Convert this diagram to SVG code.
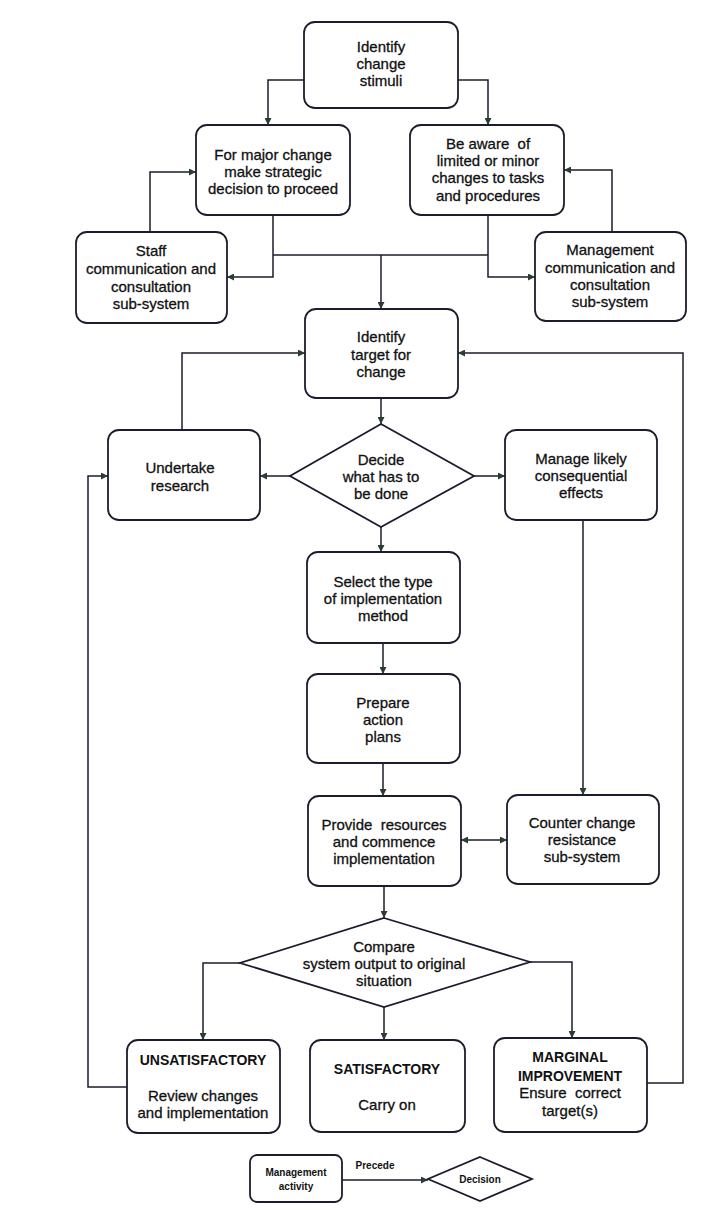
<svg xmlns="http://www.w3.org/2000/svg" width="711" height="1218" viewBox="0 0 711 1218">
<style>
.box{fill:#fff;stroke:#1c1c2e;stroke-width:1.8}
.t{font-family:"Liberation Sans",Arial,sans-serif;font-size:15px;fill:#111;stroke:#111;stroke-width:0.3;text-anchor:middle;white-space:pre}
.b{font-weight:bold;font-size:14px;stroke-width:0}
.s{font-size:10px;font-weight:bold;stroke-width:0}
.c{fill:none;stroke:#1c1c2e;stroke-width:1.5}
</style>
<defs>
<marker id="ah" viewBox="0 0 10 10" refX="10" refY="5" markerWidth="9" markerHeight="7" markerUnits="userSpaceOnUse" orient="auto-start-reverse">
<path d="M0,0 L10,5 L0,10 Z" fill="#2b3d33"/>
</marker>
</defs>
<rect width="711" height="1218" fill="#fff"/>
<g id="connectors">
<path class="c" d="M304,80 H268 V125" marker-end="url(#ah)"/>
<path class="c" d="M458,80 H488 V125" marker-end="url(#ah)"/>
<path class="c" d="M150,232 V172 H196" marker-end="url(#ah)"/>
<path class="c" d="M273,215 V277 H227" marker-end="url(#ah)"/>
<path class="c" d="M612,232 V170 H564" marker-end="url(#ah)"/>
<path class="c" d="M488,215 V277 H535" marker-end="url(#ah)"/>
<path class="c" d="M273,255 H488"/>
<path class="c" d="M381,255 V309" marker-end="url(#ah)"/>
<path class="c" d="M182,430 V353 H305" marker-end="url(#ah)"/>
<path class="c" d="M381,398 V424" marker-end="url(#ah)"/>
<path class="c" d="M290,476 H260" marker-end="url(#ah)"/>
<path class="c" d="M474,476 H505" marker-end="url(#ah)"/>
<path class="c" d="M381,527 V552" marker-end="url(#ah)"/>
<path class="c" d="M583,520 V795" marker-end="url(#ah)"/>
<path class="c" d="M383,643 V674" marker-end="url(#ah)"/>
<path class="c" d="M383,763 V796" marker-end="url(#ah)"/>
<path class="c" d="M461,840 H507" marker-start="url(#ah)" marker-end="url(#ah)"/>
<path class="c" d="M384,886 V918" marker-end="url(#ah)"/>
<path class="c" d="M240,963 H203 V1040" marker-end="url(#ah)"/>
<path class="c" d="M384,1007 V1040" marker-end="url(#ah)"/>
<path class="c" d="M530,962 H572 V1038" marker-end="url(#ah)"/>
<path class="c" d="M127,1087 H88 V476 H108" marker-end="url(#ah)"/>
<path class="c" d="M647,1083 H683 V353 H458" marker-end="url(#ah)"/>
<path class="c" d="M342,1180 H428" marker-end="url(#ah)"/>
</g>
<g id="n1"><rect class="box" x="304" y="22" width="154" height="86" rx="11"/>
<text class="t" x="381" y="52">Identify</text><text class="t" x="381" y="69">change</text><text class="t" x="381" y="86">stimuli</text></g>
<g id="n2"><rect class="box" x="196" y="125" width="154" height="90" rx="11"/>
<text class="t" x="273" y="160">For major change</text><text class="t" x="273" y="177">make strategic</text><text class="t" x="273" y="194">decision to proceed</text></g>
<g id="n3"><rect class="box" x="410" y="125" width="154" height="90" rx="11"/>
<text class="t" x="488" y="149">Be aware  of</text><text class="t" x="488" y="166">limited or minor</text><text class="t" x="488" y="183">changes to tasks</text><text class="t" x="488" y="201">and procedures</text></g>
<g id="n4"><rect class="box" x="76" y="232" width="151" height="91" rx="11"/>
<text class="t" x="151" y="256">Staff</text><text class="t" x="151" y="274">communication and</text><text class="t" x="151" y="292">consultation</text><text class="t" x="151" y="309">sub-system</text></g>
<g id="n5"><rect class="box" x="535" y="232" width="151" height="89" rx="11"/>
<text class="t" x="610" y="255">Management</text><text class="t" x="610" y="273">communication and</text><text class="t" x="610" y="290">consultation</text><text class="t" x="610" y="307">sub-system</text></g>
<g id="n6"><rect class="box" x="305" y="309" width="153" height="89" rx="11"/>
<text class="t" x="381" y="342">Identify</text><text class="t" x="381" y="360">target for</text><text class="t" x="381" y="377">change</text></g>
<g id="n7"><rect class="box" x="108" y="430" width="152" height="90" rx="11"/>
<text class="t" x="180" y="473">Undertake</text><text class="t" x="180" y="491">research</text></g>
<g id="n8"><polygon class="box" points="381,424 474,476 381,527 290,476"/>
<text class="t" x="381" y="465">Decide</text><text class="t" x="381" y="482">what has to</text><text class="t" x="381" y="499">be done</text></g>
<g id="n9"><rect class="box" x="505" y="430" width="152" height="90" rx="11"/>
<text class="t" x="581" y="464">Manage likely</text><text class="t" x="581" y="481">consequential</text><text class="t" x="581" y="498">effects</text></g>
<g id="n10"><rect class="box" x="307" y="552" width="153" height="91" rx="11"/>
<text class="t" x="383" y="587">Select the type</text><text class="t" x="383" y="604">of implementation</text><text class="t" x="383" y="621">method</text></g>
<g id="n11"><rect class="box" x="307" y="674" width="153" height="89" rx="11"/>
<text class="t" x="383" y="708">Prepare</text><text class="t" x="383" y="725">action</text><text class="t" x="383" y="742">plans</text></g>
<g id="n12"><rect class="box" x="308" y="796" width="153" height="90" rx="11"/>
<text class="t" x="384" y="830">Provide  resources</text><text class="t" x="384" y="847">and commence</text><text class="t" x="384" y="864">implementation</text></g>
<g id="n13"><rect class="box" x="507" y="795" width="152" height="89" rx="11"/>
<text class="t" x="582" y="828">Counter change</text><text class="t" x="582" y="845">resistance</text><text class="t" x="582" y="862">sub-system</text></g>
<g id="n14"><polygon class="box" points="384,918 530,962 384,1007 240,963"/>
<text class="t" x="384" y="952">Compare</text><text class="t" x="384" y="969">system output to original</text><text class="t" x="384" y="986">situation</text></g>
<g id="n15"><rect class="box" x="127" y="1040" width="153" height="93" rx="11"/>
<text class="t b" x="203" y="1065">UNSATISFACTORY</text><text class="t" x="203" y="1101">Review changes</text><text class="t" x="203" y="1118">and implementation</text></g>
<g id="n16"><rect class="box" x="310" y="1040" width="155" height="92" rx="11"/>
<text class="t b" x="387" y="1074">SATISFACTORY</text><text class="t" x="387" y="1110">Carry on</text></g>
<g id="n17"><rect class="box" x="494" y="1038" width="153" height="94" rx="11"/>
<text class="t b" x="570" y="1062">MARGINAL</text><text class="t b" x="570" y="1081">IMPROVEMENT</text><text class="t" x="570" y="1098">Ensure  correct</text><text class="t" x="570" y="1116">target(s)</text></g>
<g id="legend">
<rect class="box" x="250" y="1155" width="92" height="47" rx="7"/>
<text class="t s" x="296" y="1176">Management</text><text class="t s" x="296" y="1190">activity</text>
<text class="t s" x="375" y="1169">Precede</text>
<polygon class="box" points="480,1157 532,1179 480,1201 428,1179"/>
<text class="t s" x="480" y="1183">Decision</text>
</g>
</svg>
